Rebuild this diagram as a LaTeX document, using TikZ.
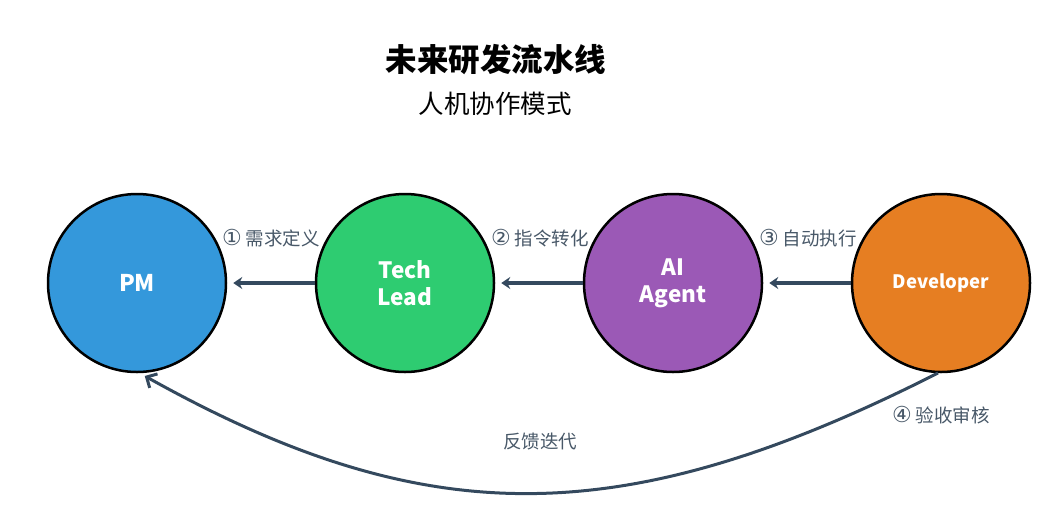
\documentclass[tikz,border=0pt]{standalone}
\usepackage{fontspec}
\setmainfont{Noto Sans CJK SC}
\newfontfamily\numfont{DejaVu Sans}
\usetikzlibrary{arrows.meta}
\definecolor{pmc}{HTML}{3498DB}
\definecolor{tlc}{HTML}{2ECC71}
\definecolor{aic}{HTML}{9B59B6}
\definecolor{dvc}{HTML}{E67E22}
\definecolor{edgec}{HTML}{34495E}
\definecolor{labc}{HTML}{485868}
\newcommand{\cn}[1]{\raisebox{-0.5pt}{\numfont\fontsize{22}{22}\selectfont #1}}
\tikzset{
  role/.style={circle, draw=black, line width=2.5pt, minimum size=178pt, inner sep=0pt,
    text=white, font=\bfseries\fontsize{22.5}{27}\selectfont, align=center},
  flow/.style={draw=edgec, line width=3.5pt, -{Stealth[length=9pt,width=12pt,inset=3pt]}, shorten >=6pt},
  back/.style={draw=edgec, line width=3pt, -{Straight Barb[length=8pt,width=16pt,line width=3pt]}, shorten >=2pt},
  lab/.style={text=labc, font=\fontsize{18.5}{21}\selectfont, inner sep=0pt},
}
\begin{document}
\begin{tikzpicture}[x=1pt,y=-1pt]
\useasboundingbox (0,0) rectangle (1040,520);
\node[font=\bfseries\fontsize{31.5}{35}\selectfont, inner sep=0pt] (title) at (496,60) {未来研发流水线};
\node[font=\fontsize{25.5}{29}\selectfont, inner sep=0pt] (sub) at (495,104) {人机协作模式};
\node[role, fill=pmc, font=\bfseries\fontsize{23}{27}\selectfont] (pm) at (137,283) {PM};
\node[role, fill=tlc] (tl) at (405,283) {Tech\\Lead};
\node[role, fill=aic] (ai) at (673,283) {AI\\Agent};
\node[role, fill=dvc, font=\bfseries\fontsize{18.5}{22}\selectfont] (dv) at (941,283) {Developer};
\draw[flow] (tl.west) -- (pm.east);
\draw[flow] (ai.west) -- (tl.east);
\draw[flow] (dv.west) -- (ai.east);
\node[lab] (l1) at (271,238) {\cn{①} 需求定义};
\node[lab] (l2) at (540,238) {\cn{②} 指令转化};
\node[lab] (l3) at (808,238) {\cn{③} 自动执行};
\coordinate (ds) at (938,373);
\coordinate (pe) at (143,375);
\draw[back] (ds) .. controls (622,533) and (426,533) .. (pe);
\node[lab] (l4) at (941,415) {\cn{④} 验收审核};
\node[lab] (l5) at (540,441) {反馈迭代};
\end{tikzpicture}
\end{document}
